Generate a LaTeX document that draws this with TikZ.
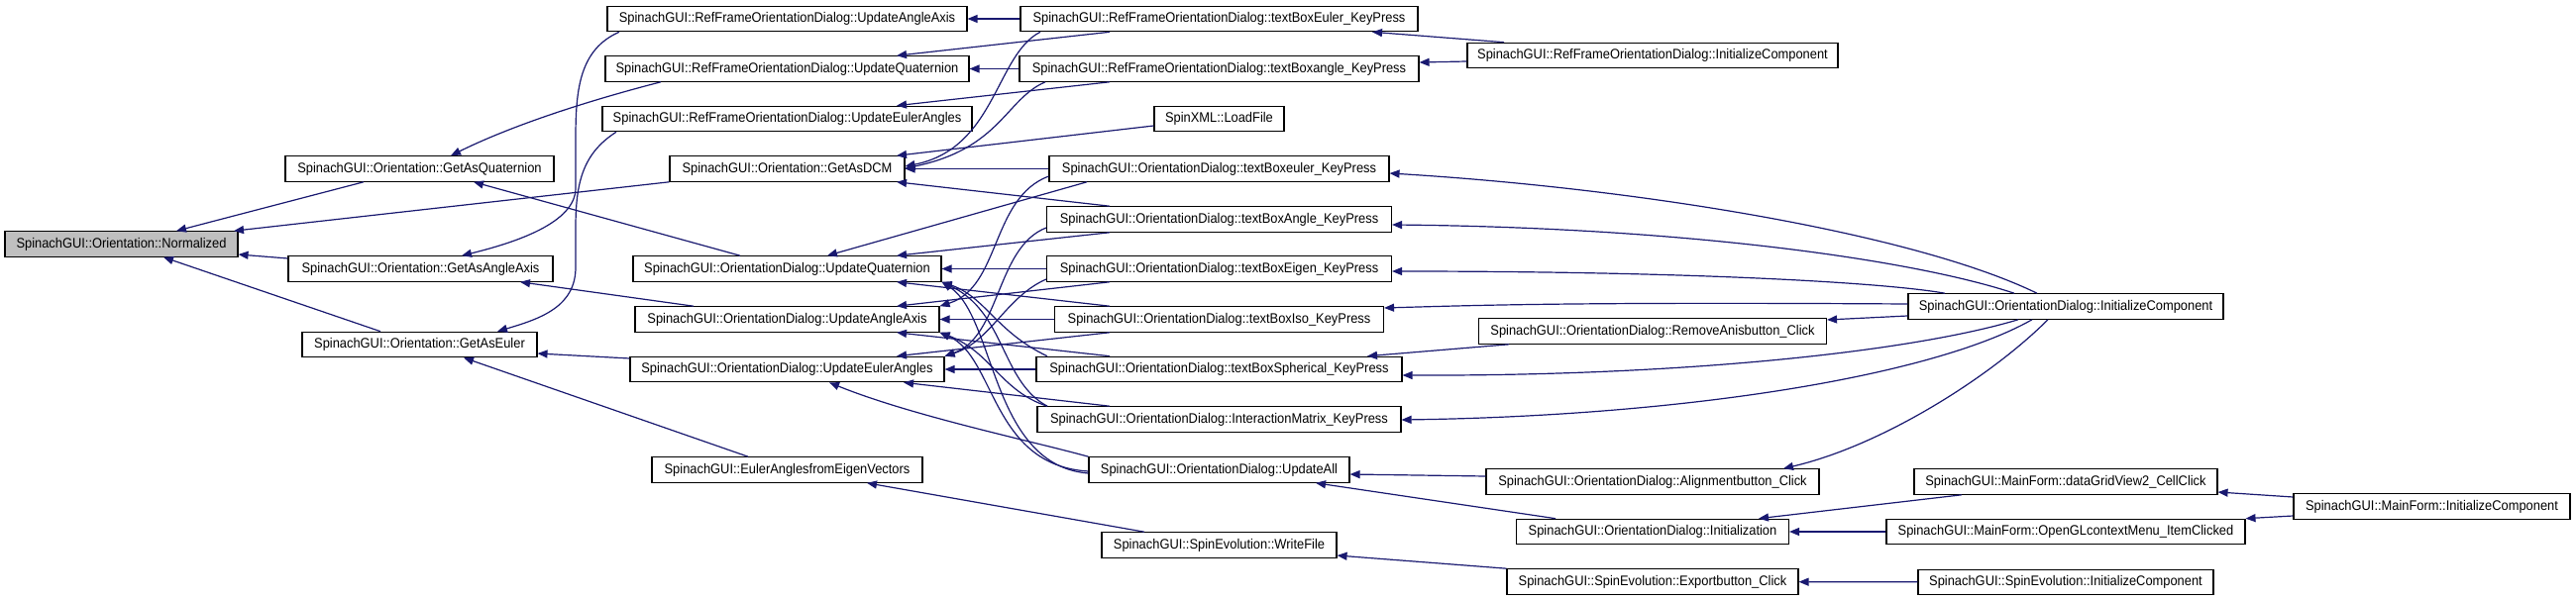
\documentclass[tikz,border=0pt]{standalone}
\usepackage{fontspec}
\newfontfamily\dxfont{Liberation Sans}[FakeStretch=0.92]
\usepackage{tikz}
\usetikzlibrary{arrows.meta}
\definecolor{callblue}{HTML}{191970}
\tikzset{
  fn/.style={rectangle,draw=black,fill=white,line width=1.1pt,minimum height=25.5pt,
    inner sep=1pt,font=\dxfont\fontsize{14}{16}\selectfont},
  fnroot/.style={fn,fill=black!25},
  cl/.style={draw=callblue,line width=1.2pt,-{Triangle[length=10pt,width=8pt]}},
}

\begin{document}
\begin{tikzpicture}[x=1pt,y=-1pt]
\path[use as bounding box,fill=white] (0,0) rectangle (2600,607);
% ---------------- callee and its direct callers
\node[fnroot,minimum width=235pt] (nrm) at (122.5,246.5) {SpinachGUI::Orientation::Normalized};
\node[fn,minimum width=271pt] (gaq) at (423.5,170.5) {SpinachGUI::Orientation::GetAsQuaternion};
\node[fn,minimum width=267pt] (gaa) at (424.5,271.5) {SpinachGUI::Orientation::GetAsAngleAxis};
\node[fn,minimum width=237pt] (gae) at (423.5,348) {SpinachGUI::Orientation::GetAsEuler};
% ---------------- third column
\node[fn,minimum width=363pt] (rfuaa) at (794.5,19) {SpinachGUI::RefFrameOrientationDialog::UpdateAngleAxis};
\node[fn,minimum width=367pt] (rfuq) at (794.5,69.5) {SpinachGUI::RefFrameOrientationDialog::UpdateQuaternion};
\node[fn,minimum width=373pt] (rfuea) at (794.5,120) {SpinachGUI::RefFrameOrientationDialog::UpdateEulerAngles};
\node[fn,minimum width=237pt] (dcm) at (794.5,170.5) {SpinachGUI::Orientation::GetAsDCM};
\node[fn,minimum width=311pt] (oduq) at (794.5,271.5) {SpinachGUI::OrientationDialog::UpdateQuaternion};
\node[fn,minimum width=307pt] (oduaa) at (794.5,322.5) {SpinachGUI::OrientationDialog::UpdateAngleAxis};
\node[fn,minimum width=317pt] (oduea) at (794.5,373) {SpinachGUI::OrientationDialog::UpdateEulerAngles};
\node[fn,minimum width=273pt] (eaf) at (794.5,474.5) {SpinachGUI::EulerAnglesfromEigenVectors};
% ---------------- fourth column
\node[fn,minimum width=401pt] (rftbe) at (1230.5,19) {SpinachGUI::RefFrameOrientationDialog::textBoxEuler\_KeyPress};
\node[fn,minimum width=403pt] (rftba) at (1230.5,69.5) {SpinachGUI::RefFrameOrientationDialog::textBoxangle\_KeyPress};
\node[fn,minimum width=131pt] (lf) at (1230.5,120) {SpinXML::LoadFile};
\node[fn,minimum width=343pt] (tbe) at (1230.5,170.5) {SpinachGUI::OrientationDialog::textBoxeuler\_KeyPress};
\node[fn,minimum width=348pt] (tba) at (1230.5,221.5) {SpinachGUI::OrientationDialog::textBoxAngle\_KeyPress};
\node[fn,minimum width=348pt] (tbeig) at (1230.5,271.5) {SpinachGUI::OrientationDialog::textBoxEigen\_KeyPress};
\node[fn,minimum width=332pt] (tbiso) at (1230.5,322.5) {SpinachGUI::OrientationDialog::textBoxIso\_KeyPress};
\node[fn,minimum width=369pt] (tbsph) at (1230.5,373) {SpinachGUI::OrientationDialog::textBoxSpherical\_KeyPress};
\node[fn,minimum width=367pt] (im) at (1230.5,423.5) {SpinachGUI::OrientationDialog::InteractionMatrix\_KeyPress};
\node[fn,minimum width=263pt] (ua) at (1230.5,474.5) {SpinachGUI::OrientationDialog::UpdateAll};
\node[fn,minimum width=237pt] (wf) at (1230.5,550.5) {SpinachGUI::SpinEvolution::WriteFile};
% ---------------- fifth column
\node[fn,minimum width=374pt] (rfic) at (1668,56) {SpinachGUI::RefFrameOrientationDialog::InitializeComponent};
\node[fn,minimum width=351pt] (rma) at (1668,334.5) {SpinachGUI::OrientationDialog::RemoveAnisbutton\_Click};
\node[fn,minimum width=336pt] (aln) at (1668,486.5) {SpinachGUI::OrientationDialog::Alignmentbutton\_Click};
\node[fn,minimum width=275pt] (ini) at (1668,537) {SpinachGUI::OrientationDialog::Initialization};
\node[fn,minimum width=294pt] (exp) at (1668,587.5) {SpinachGUI::SpinEvolution::Exportbutton\_Click};
% ---------------- sixth and seventh columns
\node[fn,minimum width=318pt] (odic) at (2085,309.5) {SpinachGUI::OrientationDialog::InitializeComponent};
\node[fn,minimum width=306pt] (dgv) at (2085,486.5) {SpinachGUI::MainForm::dataGridView2\_CellClick};
\node[fn,minimum width=362pt] (ogl) at (2085,537) {SpinachGUI::MainForm::OpenGLcontextMenu\_ItemClicked};
\node[fn,minimum width=298pt] (seic) at (2085,588) {SpinachGUI::SpinEvolution::InitializeComponent};
\node[fn,minimum width=279pt] (mfic) at (2454.5,511.5) {SpinachGUI::MainForm::InitializeComponent};

% ---------------- calls into Normalized
\draw[cl] (gaq.south -| 367,0) -- (nrm.north -| 178,0);
\draw[cl] (dcm.south west) -- (nrm.north -| 236,0);
\draw[cl] (gaa.west |- 0,261) -- (nrm.east |- 0,257);
\draw[cl] (gae.north -| 384,0) -- (nrm.south -| 165,0);
% ---------------- calls into the GetAs* column
\draw[cl] (rfuq.south -| 667,0) .. controls (600,100) and (520,125) .. (gaq.north -| 455,0);
\draw[cl] (oduq.north -| 747,0) -- (gaq.south -| 478,0);
\draw[cl] (rfuaa.south -| 625,0) .. controls (585,50) and (581,90) .. (581,140)
  -- (581,190) .. controls (581,225) and (520,245) .. (gaa.north -| 466,0);
\draw[cl] (oduaa.north -| 700,0) -- (gaa.south -| 525,0);
\draw[cl] (rfuea.south -| 622,0) .. controls (588,155) and (581,185) .. (581,230)
  -- (581,270) .. controls (581,310) and (545,322) .. (gae.north -| 502,0);
\draw[cl] (oduea.west |- 0,362) -- (gae.east |- 0,357);
\draw[cl] (eaf.north -| 755,0) -- (gae.south -| 468,0);
% ---------------- RefFrame dialog
\draw[cl] (rftbe) -- (rfuaa);
\draw[cl] (rftbe.south -| 1120,0) -- (rfuq.north -| 905,0);
\draw[cl] (rftbe.south -| 1050,0) .. controls (1005,55) and (1005,150) .. (dcm.east |- 0,168);
\draw[cl] (rftba) -- (rfuq);
\draw[cl] (rftba.south -| 1120,0) -- (rfuea.north -| 905,0);
\draw[cl] (rftba.south -| 1055,0) .. controls (1015,100) and (1010,150) .. (dcm.east |- 0,170);
\draw[cl] (rfic.north -| 1518,0) -- (rftbe.south -| 1385,0);
\draw[cl] (rfic.west |- 0,62) -- (rftba.east |- 0,63);
% ---------------- GetAsDCM
\draw[cl] (lf.west |- 0,127) -- (dcm.north -| 905,0);
\draw[cl] (tbe) -- (dcm);
\draw[cl] (tba.north -| 1120,0) -- (dcm.south -| 905,0);
% ---------------- OrientationDialog updates
\draw[cl] (tbe.south -| 1097,0) -- (oduq.north -| 835,0);
\draw[cl] (tba.south -| 1120,0) -- (oduq.north -| 905,0);
\draw[cl] (tbeig) -- (oduq);
\draw[cl] (tbiso.north -| 1120,0) -- (oduq.south -| 905,0);
\draw[cl] (tbsph.north -| 1057,0) .. controls (1005,335) and (995,300) .. (oduq.south east);
\draw[cl] (im.north -| 1057,0) .. controls (1010,385) and (1015,315) .. (oduq.south east);
\draw[cl] (ua.west |- 0,478) .. controls (1000,470) and (1005,320) .. (oduq.south east);
\draw[cl] (tbe.west |- 0,178) .. controls (1000,200) and (1010,290) .. (oduaa.north east);
\draw[cl] (tbeig.south -| 1120,0) -- (oduaa.north -| 905,0);
\draw[cl] (tbiso) -- (oduaa);
\draw[cl] (tbsph.north -| 1120,0) -- (oduaa.south -| 905,0);
\draw[cl] (im.north -| 1057,0) .. controls (1010,395) and (1000,355) .. (oduaa.south east);
\draw[cl] (ua.west |- 0,476) .. controls (1000,470) and (1005,360) .. (oduaa.south east);
\draw[cl] (tba.west |- 0,230) .. controls (1005,250) and (1010,340) .. (oduea.north east);
\draw[cl] (tbeig.west |- 0,282) .. controls (1015,300) and (1000,345) .. (oduea.north east);
\draw[cl] (tbiso.south -| 1120,0) -- (oduea.north -| 905,0);
\draw[cl] (tbsph) -- (oduea);
\draw[cl] (im.north -| 1120,0) -- (oduea.south -| 912,0);
\draw[cl] (ua.north west) .. controls (1040,445) and (920,420) .. (oduea.south -| 837,0);
% ---------------- OrientationDialog::InitializeComponent
\draw[cl] (odic.north -| 2056,0) .. controls (1930,235) and (1650,190) .. (tbe.east |- 0,175);
\draw[cl] (odic.north -| 2033,0) .. controls (1930,262) and (1700,230) .. (tba.east |- 0,227);
\draw[cl] (odic.north -| 1963,0) .. controls (1900,285) and (1700,274) .. (tbeig.east |- 0,274);
\draw[cl] (odic.west |- 0,307) .. controls (1600,305) and (1500,308) .. (tbiso.east |- 0,311);
\draw[cl] (odic.west |- 0,319) -- (rma.east |- 0,323);
\draw[cl] (rma.south -| 1523,0) -- (tbsph.north -| 1380,0);
\draw[cl] (odic.south -| 2037,0) .. controls (1930,355) and (1700,380) .. (tbsph.east |- 0,379);
\draw[cl] (odic.south -| 2051,0) .. controls (1950,380) and (1700,420) .. (im.east |- 0,424);
\draw[cl] (odic.south -| 2067,0) .. controls (2010,380) and (1900,450) .. (aln.north -| 1800,0);
% ---------------- UpdateAll and the main form
\draw[cl] (aln.west |- 0,481) -- (ua.east |- 0,479);
\draw[cl] (ini.north -| 1570,0) -- (ua.south -| 1328,0);
\draw[cl] (dgv.south -| 1980,0) -- (ini.north -| 1775,0);
\draw[cl] (ogl) -- (ini);
\draw[cl] (mfic.west |- 0,502) -- (dgv.east |- 0,497);
\draw[cl] (mfic.west |- 0,521) -- (ogl.north east);
% ---------------- spin evolution export
\draw[cl] (wf.north -| 1155,0) -- (eaf.south -| 875,0);
\draw[cl] (exp.north west) -- (wf.east |- 0,561);
\draw[cl] (seic) -- (exp);
\end{tikzpicture}
\end{document}
